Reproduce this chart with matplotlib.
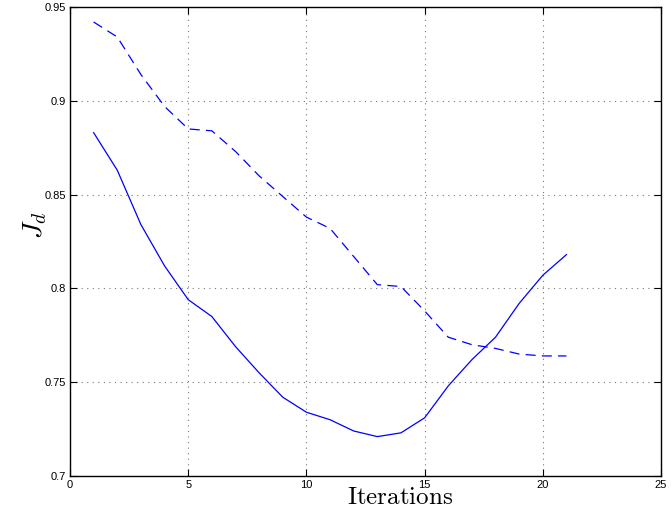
import matplotlib
matplotlib.use("Agg")
import matplotlib.pyplot as plt

plt.rcParams['mathtext.fontset'] = 'cm'
plt.rcParams['font.family'] = ['Liberation Sans', 'DejaVu Sans']

iterations = list(range(1, 22))
jd_solid = [0.883, 0.863, 0.834, 0.812, 0.794, 0.785, 0.769, 0.755, 0.742, 0.734,
            0.730, 0.724, 0.721, 0.723, 0.731, 0.748, 0.762, 0.774, 0.792, 0.807, 0.818]
jd_dashed = [0.942, 0.934, 0.914, 0.897, 0.885, 0.884, 0.873, 0.860, 0.849, 0.838,
             0.832, 0.817, 0.802, 0.801, 0.788, 0.774, 0.770, 0.768, 0.765, 0.764, 0.764]

xticks = [0, 5, 10, 15, 20, 25]
yticks = [0.7, 0.75, 0.8, 0.85, 0.9, 0.95]
ytick_labels = ['0.7', '0.75', '0.8', '0.85', '0.9', '0.95']

fig = plt.figure(figsize=(6.71, 5.13), dpi=100)
ax = fig.add_axes([70 / 671, 37 / 513, 591 / 671, 469 / 513])

ax.plot(iterations, jd_solid, color='blue', linewidth=0.9)
ax.plot(iterations, jd_dashed, color='blue', linewidth=0.9, linestyle=(0, (8, 5)))

ax.set_xlim(0, 25)
ax.set_ylim(0.7, 0.95)
ax.set_xticks(xticks)
ax.set_yticks(yticks)
ax.set_yticklabels(ytick_labels)
ax.tick_params(direction='in', top=True, right=True, labelsize=8, length=5, width=0.8, pad=3)
ax.grid(True, linestyle=(0, (1, 4)), color='#777777', linewidth=0.8)
for s in ax.spines.values():
    s.set_linewidth(1.0)

fig.text(400 / 671, 1 - 497 / 513, r'$\mathrm{Iterations}$', fontsize=18, ha='center', va='center')
fig.text(35 / 671, 1 - 225 / 513, r'$\boldsymbol{J_d}$', fontsize=20, ha='center', va='center', rotation=90)

fig.savefig('out.png', dpi=100)
